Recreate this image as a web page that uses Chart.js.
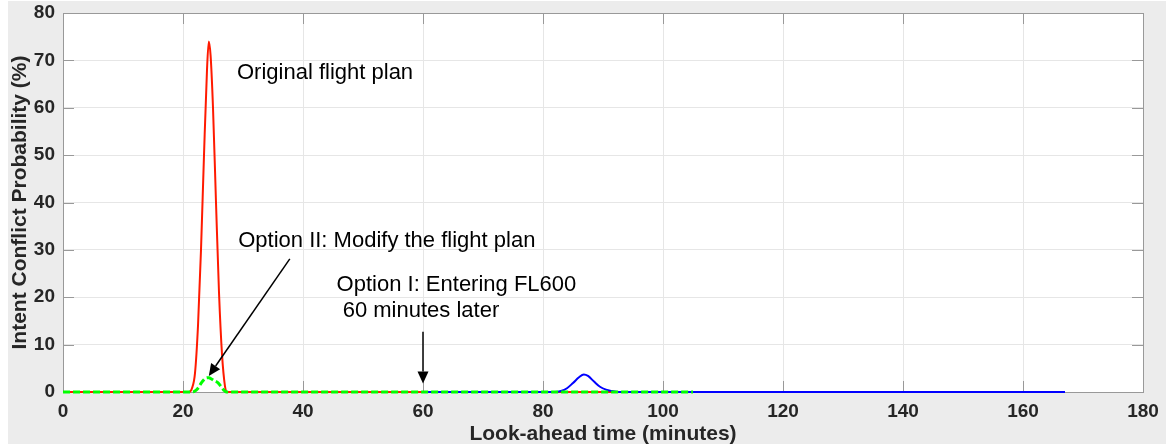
<!DOCTYPE html>
<html>
<head>
<meta charset="utf-8">
<title>Intent Conflict Probability</title>
<script src="https://cdn.jsdelivr.net/npm/chart.js@4/dist/chart.umd.min.js"></script>
<style>
    html, body { margin: 0; padding: 0; background: #ffffff; }
    #chart { display: block; }
</style>
</head>
<body>
<canvas id="chart" width="1166" height="448"></canvas>
<script>
// Original flight plan (red)
const originalX = [0, 20, 21, 21.5, 22, 22.5, 23, 23.5, 24, 24.3, 24.6, 25, 25.5, 26, 26.5, 27, 27.3, 28, 105];
const originalY = [0, 0, 0, 0.8, 4, 14, 30, 50, 68, 74, 71, 60, 40, 21, 8, 1.2, 0, 0, 0];

// Option II: modify the flight plan (green dashed)
const option2X = [0, 21.5, 22, 22.5, 23, 23.5, 24, 24.3, 24.8, 25.3, 25.8, 26.3, 26.8, 27.2, 105];
const option2Y = [0, 0, 0.2, 0.8, 1.8, 2.6, 3.0, 3.0, 2.7, 2.3, 2.0, 1.2, 0.4, 0, 0];

// Option I: entering FL600 60 minutes later (blue)
const option1X = [60, 82, 83, 84, 85, 86, 86.8, 87.5, 88.5, 89.5, 90.5, 91.5, 92.5, 167];
const option1Y = [0, 0, 0.2, 0.8, 1.9, 3.1, 3.7, 3.4, 2.2, 1.1, 0.5, 0.2, 0, 0];

// Axes
const xTicks = [0, 20, 40, 60, 80, 100, 120, 140, 160, 180];
const yTicks = [0, 10, 20, 30, 40, 50, 60, 70, 80];

// Annotations (data coordinates)
const labels = [
    { text: "Original flight plan", x: 29.0, y: 67.3 },
    { text: "Option II: Modify the flight plan", x: 29.2, y: 31.9 },
    { text: "Option I: Entering FL600", x: 45.6, y: 22.6 },
    { text: " 60 minutes later", x: 45.6, y: 17.1 }
];
const arrows = [
    { fromX: 37.8, fromY: 28.1, toX: 24.3, toY: 3.4 },
    { fromX: 60, fromY: 12.7, toX: 60, toY: 1.8 }
];

const axisColor = "#999999";
const textColor = "#262626";
const fontFamily = "'Liberation Sans', Arial, Helvetica, sans-serif";

function toPoints(xs, ys) {
    return xs.map((x, i) => ({ x: x, y: ys[i] }));
}

// Figure background, white axes, box, inward ticks, arrows and text
const matlabLook = {
    id: "matlabLook",
    beforeDraw(chart) {
        const ctx = chart.ctx;
        const area = chart.chartArea;
        ctx.save();
        ctx.fillStyle = "#ffffff";
        ctx.fillRect(0, 0, chart.width, chart.height);
        ctx.fillStyle = "#ececec";
        ctx.fillRect(8, 1, chart.width - 8, 443);
        ctx.fillStyle = "#ffffff";
        ctx.fillRect(area.left, area.top, area.right - area.left, area.bottom - area.top);
        ctx.restore();
    },
    beforeDatasetsDraw(chart) {
        const ctx = chart.ctx;
        const area = chart.chartArea;
        const xs = chart.scales.x;
        const ys = chart.scales.y;
        const tickLen = 11;

        ctx.save();
        ctx.strokeStyle = axisColor;
        ctx.lineWidth = 1;

        // inward tick marks on all four sides
        ctx.beginPath();
        xTicks.forEach(v => {
            const px = Math.round(xs.getPixelForValue(v)) + 0.5;
            ctx.moveTo(px, area.bottom);
            ctx.lineTo(px, area.bottom - tickLen);
            ctx.moveTo(px, area.top);
            ctx.lineTo(px, area.top + tickLen);
        });
        yTicks.forEach(v => {
            const py = Math.round(ys.getPixelForValue(v)) + 0.5;
            ctx.moveTo(area.left, py);
            ctx.lineTo(area.left + tickLen, py);
            ctx.moveTo(area.right, py);
            ctx.lineTo(area.right - tickLen, py);
        });
        ctx.stroke();

        // box
        ctx.strokeRect(Math.round(area.left) + 0.5, Math.round(area.top) + 0.5,
            Math.round(area.right - area.left), Math.round(area.bottom - area.top));
        ctx.restore();
    },
    afterDatasetsDraw(chart) {
        const ctx = chart.ctx;
        const xs = chart.scales.x;
        const ys = chart.scales.y;

        ctx.save();
        // arrows
        ctx.strokeStyle = "#000000";
        ctx.fillStyle = "#000000";
        ctx.lineWidth = 1.5;
        arrows.forEach(a => {
            const x1 = xs.getPixelForValue(a.fromX);
            const y1 = ys.getPixelForValue(a.fromY);
            const x2 = xs.getPixelForValue(a.toX);
            const y2 = ys.getPixelForValue(a.toY);
            const ang = Math.atan2(y2 - y1, x2 - x1);
            const headLen = 12;
            const headW = 5.5;
            const bx = x2 - headLen * Math.cos(ang);
            const by = y2 - headLen * Math.sin(ang);
            ctx.beginPath();
            ctx.moveTo(x1, y1);
            ctx.lineTo(bx, by);
            ctx.stroke();
            ctx.beginPath();
            ctx.moveTo(x2, y2);
            ctx.lineTo(bx + headW * Math.sin(ang), by - headW * Math.cos(ang));
            ctx.lineTo(bx - headW * Math.sin(ang), by + headW * Math.cos(ang));
            ctx.closePath();
            ctx.fill();
        });

        // text labels
        ctx.font = "22px " + fontFamily;
        ctx.textAlign = "left";
        ctx.textBaseline = "middle";
        labels.forEach(l => {
            ctx.fillText(l.text, xs.getPixelForValue(l.x), ys.getPixelForValue(l.y));
        });
        ctx.restore();
    }
};

// Render Chart
const ctx = document.getElementById("chart").getContext("2d");
const conflictChart = new Chart(ctx, {
    type: "line",
    data: {
        datasets: [
            {
                label: "Original flight plan",
                data: toPoints(originalX, originalY),
                borderColor: "#ff1a00",
                borderWidth: 2,
                order: 2
            },
            {
                label: "Option II",
                data: toPoints(option2X, option2Y),
                borderColor: "#00ff00",
                borderWidth: 3,
                borderDash: [7, 3],
                order: 0
            },
            {
                label: "Option I",
                data: toPoints(option1X, option1Y),
                borderColor: "#0000ff",
                borderWidth: 2,
                order: 1
            }
        ]
    },
    options: {
        responsive: false,
        animation: false,
        events: [],
        layout: { padding: { left: 0, right: 23, top: 13, bottom: 0 } },
        elements: {
            point: { radius: 0 },
            line: { fill: false, cubicInterpolationMode: "monotone" }
        },
        datasets: {
            line: { clip: false }
        },
        plugins: {
            legend: { display: false },
            tooltip: { enabled: false }
        },
        scales: {
            x: {
                type: "linear",
                min: 0,
                max: 180,
                afterFit(scale) {
                    scale.height = 56;
                    scale.paddingLeft = 0;
                    scale.paddingRight = 0;
                },
                afterBuildTicks(scale) { scale.ticks = xTicks.map(v => ({ value: v })); },
                ticks: {
                    padding: 8,
                    color: textColor,
                    font: { family: fontFamily, size: 19, weight: "bold" }
                },
                grid: { color: "#e6e6e6", drawTicks: false },
                border: { display: false },
                title: {
                    display: true,
                    text: "Look-ahead time (minutes)",
                    color: textColor,
                    padding: { top: 0, bottom: 1 },
                    font: { family: fontFamily, size: 21, weight: "bold" }
                }
            },
            y: {
                min: 0,
                max: 80,
                afterFit(scale) {
                    scale.width = 63;
                    scale.paddingTop = 0;
                    scale.paddingBottom = 0;
                },
                afterBuildTicks(scale) { scale.ticks = yTicks.map(v => ({ value: v })); },
                ticks: {
                    padding: 8,
                    color: textColor,
                    font: { family: fontFamily, size: 19, weight: "bold" }
                },
                grid: { color: "#e6e6e6", drawTicks: false },
                border: { display: false },
                title: {
                    display: true,
                    text: "Intent Conflict Probability (%)",
                    color: textColor,
                    padding: { top: 8, bottom: 0 },
                    font: { family: fontFamily, size: 21, weight: "bold" }
                }
            }
        }
    },
    plugins: [matlabLook]
});
</script>
</body>
</html>
